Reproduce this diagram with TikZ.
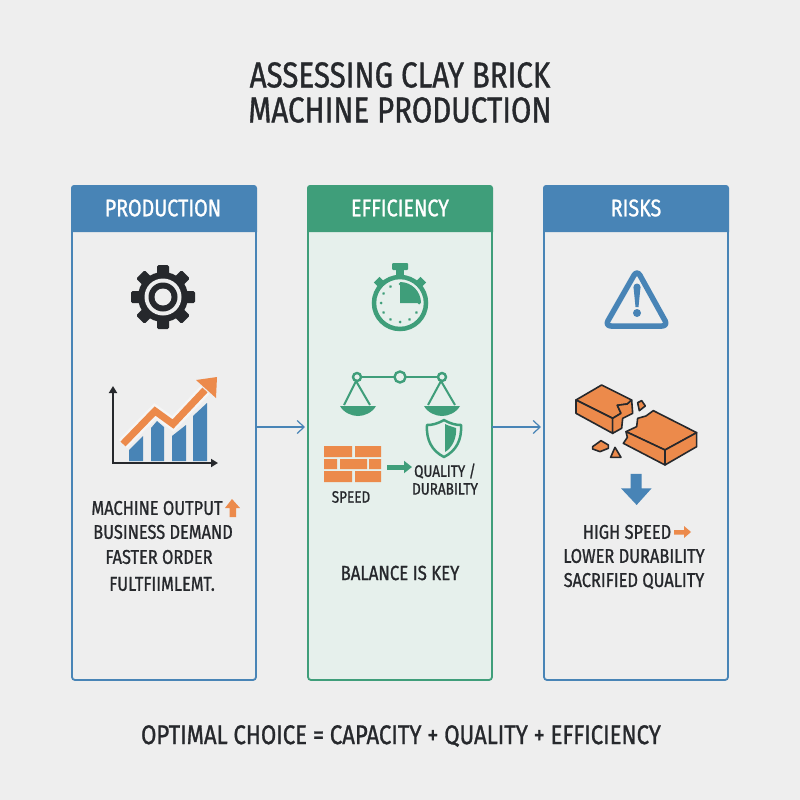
\documentclass[tikz,border=0pt]{standalone}
\usepackage{fontspec}
\setmainfont[FakeStretch=0.82,FakeBold=1]{Fira Sans}
\usepackage{tikz}
\usetikzlibrary{arrows.meta}
\definecolor{bgcol}{HTML}{EEEEEE}
\definecolor{darktext}{HTML}{26282C}
\definecolor{blue1}{HTML}{4884B6}
\definecolor{green1}{HTML}{3F9E7A}
\definecolor{greenbg}{HTML}{E6F0EC}
\definecolor{orange1}{HTML}{EC8A4B}
\newcommand{\fs}[1]{\fontsize{#1}{#1}\selectfont}

\begin{document}
\begin{tikzpicture}[x=1pt,y=-1pt]
\tikzstyle{title}=[inner sep=0pt, text=darktext, font=\fs{36}]
\tikzstyle{head}=[inner sep=0pt, text=white, font=\fs{24}]
\tikzstyle{body}=[inner sep=0pt, text=darktext, font=\fs{20}]
\tikzstyle{small}=[inner sep=0pt, text=darktext, font=\fs{16.5}]
\tikzstyle{panel}=[rounded corners=3pt, line width=1.8pt]
\tikzstyle{connect}=[-{Straight Barb[length=7pt,width=13pt]}, blue1, line width=1.2pt]
\tikzstyle{bold}=[line width=5pt, -{Triangle[length=8pt,width=12pt]}]
\fill[bgcol] (0,0) rectangle (800,800);
\useasboundingbox (0,0) rectangle (800,800);

\node[title] (title_1) at (400,75) {ASSESSING CLAY BRICK};
\node[title] (title_2) at (400,110) {MACHINE PRODUCTION};

% panels
\draw[panel, blue1] (72,225) rectangle (256,680);
\draw[panel, green1, fill=greenbg] (308,225) rectangle (492,680);
\draw[panel, blue1] (544,225) rectangle (728,680);
\fill[blue1] (71,232) -- (71,188) arc (180:270:3) -- (254,185) arc (270:360:3) -- (257,232) -- cycle;
\fill[green1] (307,232) -- (307,188) arc (180:270:3) -- (490,185) arc (270:360:3) -- (493,232) -- cycle;
\fill[blue1] (543,232) -- (543,188) arc (180:270:3) -- (726,185) arc (270:360:3) -- (729,232) -- cycle;
\node[head] (prod_head) at (163,208) {PRODUCTION};
\node[head] (eff_head) at (400,208) {EFFICIENCY};
\node[head] (risk_head) at (636,208) {RISKS};

\coordinate (prod_out) at (256,427);
\coordinate (eff_in) at (305,427);
\coordinate (eff_out) at (492,427);
\coordinate (risk_in) at (541,427);
\draw[connect] (prod_out) -- (eff_in);
\draw[connect] (eff_out) -- (risk_in);

% gear
\fill[darktext] (163,297) circle (25);
\foreach \a in {0,45,...,315}
	\fill[darktext, rounded corners=1.5pt, shift={(163,297)}, rotate=\a] (-6,-20) rectangle (6,-32);
\fill[bgcol] (163,297) circle (18.5);
\fill[darktext] (163,297) circle (14.5);
\fill[bgcol] (163,297) circle (8.5);

% chart
\fill[blue1] (129,461) -- (129,450) -- (143,436) -- (143,461) -- cycle;
\fill[blue1] (151,461) -- (151,428) -- (157,421) -- (164,427) -- (164,461) -- cycle;
\fill[blue1] (172,461) -- (172,436) -- (186,425) -- (186,461) -- cycle;
\fill[blue1] (193,461) -- (193,416) -- (207,403) -- (207,461) -- cycle;
\draw[bgcol!60!white, line width=12pt] (123,444) -- (155,411) -- (173,424) -- (205,390);
\draw[orange1, line width=7pt, line join=miter] (123,444) -- (155,411) -- (173,424) -- (205,390);
\fill[orange1] (196,380) -- (217,377) -- (216,398) -- cycle;
\draw[darktext, line width=1.8pt, -{Triangle[length=7pt,width=8pt]}] (113,463) -- (113,386);
\draw[darktext, line width=1.8pt, -{Triangle[length=7pt,width=8pt]}] (112,463) -- (218,463);

% left text
\node[body] (out_1) at (157,508) {MACHINE OUTPUT};
\node[body] (out_2) at (163,532) {BUSINESS DEMAND};
\node[body] (out_3) at (159,557) {FASTER ORDER};
\node[body] (out_4) at (162,584) {FULTFIIMLEMT.};
\fill[orange1] (225,508) -- (232,499) -- (240,508) -- (236,508) -- (236,517) -- (229.5,517) -- (229.5,508) -- cycle;

% stopwatch
\draw[green1, line width=4.5pt] (400,303) circle (26);
\fill[green1, rounded corners=1pt] (392,263) rectangle (408,270);
\fill[green1] (396,270) rectangle (404,277);
\foreach \a in {45,-45}
	\fill[green1, shift={(400,303)}, rotate=\a] (-4,-33) rectangle (4,-26);
\foreach \a in {30,60,...,360}
	\fill[green1, shift={(400,303)}, rotate=\a] (0,-19) circle (1.5);
\fill[green1] (400,303) -- (400,282) arc (-90:0:21) -- cycle;

% scales
\draw[green1, line width=2.4pt] (361,377) -- (394,377) (406,377) -- (438,377);
\draw[green1, line width=2.4pt] (400,377) circle (5.5) (357,377) circle (4) (442,377) circle (4);
\draw[green1, line width=2pt] (344,405) -- (356,381) -- (370,405) (428,405) -- (441,381) -- (455,405);
\fill[green1] (340,406) -- (376,406) .. controls (372,413) and (364,416) .. (358,416) .. controls (352,416) and (344,413) .. (340,406) -- cycle;
\fill[green1] (424,406) -- (460,406) .. controls (456,413) and (448,416) .. (442,416) .. controls (436,416) and (428,413) .. (424,406) -- cycle;

% shield
\draw[green1, line width=2.5pt, line join=round] (444,420) .. controls (451,424) and (456,425) .. (461,425) .. controls (462,440) and (456,451) .. (444,457) .. controls (432,451) and (426,440) .. (427,425) .. controls (432,425) and (437,424) .. (444,420) -- cycle;
\fill[green1] (445,424) .. controls (449,426) and (453,427) .. (456,428) .. controls (457,438) and (452,448) .. (445,452) -- cycle;

% bricks
\fill[orange1] (324,446) rectangle (352,457) (355,446) rectangle (381,457);
\fill[orange1] (324,459) rectangle (337,469) (340,459) rectangle (367,469) (369,459) rectangle (381,469);
\fill[orange1] (324,471) rectangle (352,482) (355,471) rectangle (381,482);
\coordinate (speed_out) at (387,467);
\coordinate (quality_in) at (412,467);
\draw[bold, green1] (speed_out) -- (quality_in);
\node[small] (speed) at (351,497) {SPEED};
\node[small] (quality_1) at (445,471) {QUALITY /};
\node[small] (quality_2) at (445,489) {DURABILTY};
\node[body, font=\fs{20.5}] (balance) at (400,573) {BALANCE IS KEY};

% warning sign
\draw[blue1, line width=5.5pt, line join=round, rounded corners=6pt] (637,270) -- (668,326) -- (605,326) -- cycle;
\fill[blue1] (633.5,287) -- (640.5,287) -- (638.5,307) -- (635.5,307) -- cycle;
\fill[blue1] (637,287) circle (3.5);
\fill[blue1] (637,313) circle (4);

% broken brick
\begin{scope}[shift={(540,250)},x=0.3333pt,y=-0.3333pt]
\tikzstyle{piece}=[fill=orange1, draw=darktext, line width=1.6pt, line join=round]
\draw[piece] (108,450) -- (185,405) -- (275,450) -- (262,462) -- (232,466) -- (243,490) -- (218,505) -- cycle;
\draw[piece] (108,450) -- (218,505) -- (218,550) -- (108,490) -- cycle;
\draw[piece] (218,505) -- (243,490) -- (232,466) -- (262,462) -- (275,450) -- (278,490) -- (248,505) -- (245,535) -- (218,550) -- cycle;
\draw[piece] (340,482) -- (470,548) -- (375,600) -- (258,545) -- (290,530) -- (293,505) -- (318,498) -- cycle;
\draw[piece] (258,545) -- (375,600) -- (375,645) -- (250,580) -- (262,562) -- cycle;
\draw[piece] (375,600) -- (470,548) -- (470,590) -- (375,645) -- cycle;
\draw[piece] (293,458) -- (305,452) -- (316,468) -- (298,482) -- cycle;
\draw[piece] (158,590) -- (183,572) -- (205,585) -- (205,595) -- (180,605) -- (158,597) -- cycle;
\draw[piece] (225,592) -- (243,622) -- (212,622) -- cycle;
\fill[blue1] (272,672) -- (305,672) -- (305,715) -- (335,715) -- (290,765) -- (243,715) -- (272,715) -- cycle;
\end{scope}

% right text
\node[body] (risk_1) at (627,532) {HIGH SPEED};
\node[body] (risk_2) at (634,556) {LOWER DURABILITY};
\node[body] (risk_3) at (634,581) {SACRIFIED QUALITY};
\fill[orange1] (674,530) -- (684,530) -- (684,526) -- (691,532) -- (684,538) -- (684,534.5) -- (674,534.5) -- cycle;

\node[title, font=\fs{27}] (bottom) at (401,736) {OPTIMAL CHOICE = CAPACITY + QUALITY + EFFICIENCY};
\end{tikzpicture}
\end{document}
